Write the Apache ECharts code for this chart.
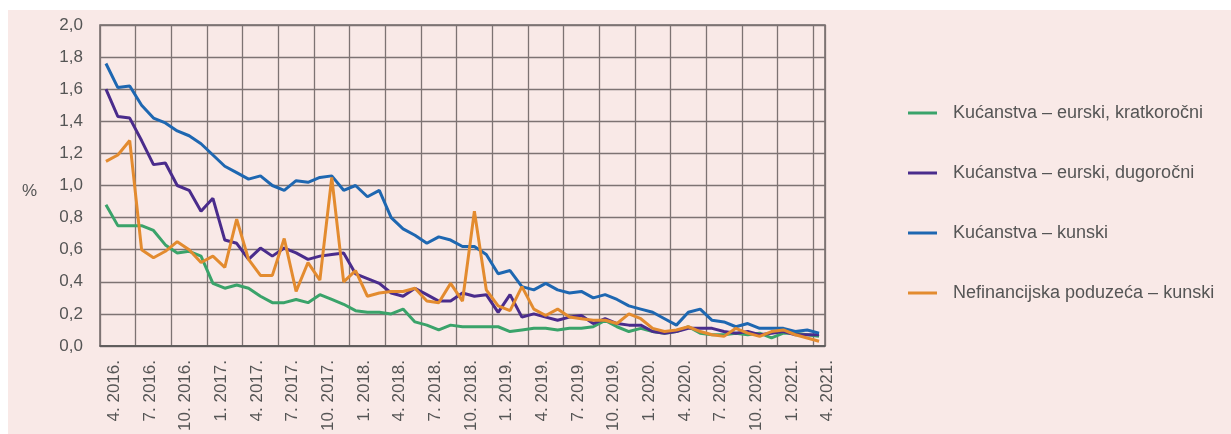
<!DOCTYPE html>
<html lang="hr">
<head>
    <meta charset="UTF-8">
    <title>Kamatne stope</title>
    <script src="https://cdn.jsdelivr.net/npm/echarts@6/dist/echarts.min.js"></script>
    <style>
        body {
            margin: 0;
            background: #ffffff;
        }

        #chart {
            position: absolute;
            left: 8px;
            top: 10px;
            width: 1223px;
            height: 424px;
            background: #f9e9e7;
        }
    </style>
</head>
<body>
<div id="chart"></div>
<script>
    // mjeseci od 4. 2016. do 4. 2021.
    const months = [];
    for (let y = 2016, m = 4; y < 2021 || (y === 2021 && m <= 4); m++) {
        if (m > 12) { m = 1; y++; }
        if (y === 2021 && m > 4) break;
        months.push(m + '. ' + y + '.');
    }

    const seriesNames = [
        'Kućanstva – eurski, kratkoročni',
        'Kućanstva – eurski, dugoročni',
        'Kućanstva – kunski',
        'Nefinancijska poduzeća – kunski'
    ];

    const euShort = [
        0.88, 0.75, 0.75, 0.75, 0.72, 0.63, 0.58, 0.59, 0.56, 0.39,
        0.36, 0.38, 0.36, 0.31, 0.27, 0.27, 0.29, 0.27, 0.32, 0.29,
        0.26, 0.22, 0.21, 0.21, 0.20, 0.23, 0.15, 0.13, 0.10, 0.13,
        0.12, 0.12, 0.12, 0.12, 0.09, 0.10, 0.11, 0.11, 0.10, 0.11,
        0.11, 0.12, 0.16, 0.12, 0.09, 0.11, 0.09, 0.08, 0.09, 0.12,
        0.08, 0.07, 0.07, 0.08, 0.07, 0.08, 0.05, 0.08, 0.08, 0.07,
        0.06
    ];
    const euLong = [
        1.60, 1.43, 1.42, 1.28, 1.13, 1.14, 1.00, 0.97, 0.84, 0.92,
        0.66, 0.64, 0.54, 0.61, 0.56, 0.61, 0.58, 0.54, 0.56, 0.57,
        0.58, 0.45, 0.42, 0.39, 0.33, 0.31, 0.36, 0.32, 0.28, 0.28,
        0.33, 0.31, 0.32, 0.21, 0.32, 0.18, 0.20, 0.18, 0.16, 0.18,
        0.19, 0.14, 0.17, 0.14, 0.13, 0.13, 0.09, 0.08, 0.09, 0.11,
        0.11, 0.11, 0.09, 0.08, 0.09, 0.07, 0.08, 0.09, 0.07, 0.07,
        0.07
    ];
    const kunaHh = [
        1.76, 1.61, 1.62, 1.50, 1.42, 1.39, 1.34, 1.31, 1.26, 1.19,
        1.12, 1.08, 1.04, 1.06, 1.00, 0.97, 1.03, 1.02, 1.05, 1.06,
        0.97, 1.00, 0.93, 0.97, 0.80, 0.73, 0.69, 0.64, 0.68, 0.66,
        0.62, 0.62, 0.57, 0.45, 0.47, 0.37, 0.35, 0.39, 0.35, 0.33,
        0.34, 0.30, 0.32, 0.29, 0.25, 0.23, 0.21, 0.17, 0.13, 0.21,
        0.23, 0.16, 0.15, 0.12, 0.14, 0.11, 0.11, 0.11, 0.09, 0.10,
        0.08
    ];
    const kunaCorp = [
        1.15, 1.19, 1.28, 0.60, 0.55, 0.59, 0.65, 0.60, 0.52, 0.56,
        0.49, 0.79, 0.54, 0.44, 0.44, 0.67, 0.34, 0.52, 0.41, 1.05,
        0.40, 0.47, 0.31, 0.33, 0.34, 0.34, 0.36, 0.28, 0.27, 0.39,
        0.28, 0.84, 0.35, 0.25, 0.22, 0.37, 0.23, 0.19, 0.23, 0.18,
        0.17, 0.16, 0.16, 0.14, 0.20, 0.17, 0.11, 0.09, 0.10, 0.12,
        0.09, 0.07, 0.06, 0.11, 0.08, 0.06, 0.09, 0.10, 0.07, 0.05,
        0.03
    ];
    const colors = ['#3aa36a', '#4a2c8c', '#1e67b1', '#e38b2f'];

    const textColor = '#555555';
    const font = 'Liberation Sans';
    const chart = echarts.init(document.getElementById('chart'));

    chart.setOption({
        animation: false,
        color: colors,
        textStyle: {fontFamily: font},
        grid: {
            left: 92,
            top: 15,
            width: 725,
            height: 321,
            show: true,
            borderColor: '#6e6666',
            borderWidth: 1.5,
            backgroundColor: 'transparent'
        },
        legend: {
            orient: 'vertical',
            left: 895,
            top: 88,
            icon: 'rect',
            itemWidth: 29,
            itemHeight: 3,
            itemGap: 40,
            textStyle: {
                fontSize: 18,
                color: textColor,
                lineHeight: 20,
                padding: [0, 0, 0, 11]
            },
            data: seriesNames
        },
        graphic: [{
            type: 'text',
            left: 14,
            top: 173,
            style: {text: '%', font: '17px ' + font, fill: textColor}
        }],
        xAxis: {
            type: 'category',
            data: months,
            boundaryGap: true,
            axisLine: {lineStyle: {color: '#555', width: 1.5}},
            axisTick: {show: false, interval: 2},
            splitLine: {show: true, interval: 2, lineStyle: {color: '#7d7373', width: 1.3}},
            axisLabel: {
                interval: 2,
                rotate: 90,
                margin: 14,
                fontSize: 17,
                color: textColor,
                verticalAlign: 'top',
                lineHeight: 17
            }
        },
        yAxis: {
            type: 'value',
            min: 0,
            max: 2,
            interval: 0.2,
            axisLine: {show: false},
            axisTick: {show: false},
            splitLine: {lineStyle: {color: '#7d7373', width: 1.3}},
            axisLabel: {
                margin: 17,
                fontSize: 17,
                color: textColor,
                formatter: v => v.toFixed(1).replace('.', ',')
            }
        },
        series: [euShort, euLong, kunaHh, kunaCorp].map((d, i) => ({
            name: seriesNames[i],
            type: 'line',
            data: d,
            symbol: 'none',
            lineStyle: {width: 3}
        }))
    });
</script>
</body>
</html>
